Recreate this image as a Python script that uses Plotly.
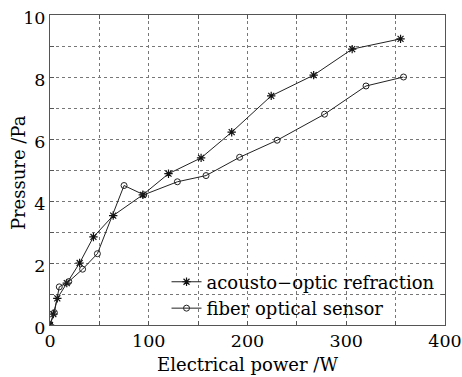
import plotly.graph_objects as go

# Data
ao_power = [0, 3.4, 7.4, 17, 30, 44, 64, 94, 120, 153, 184, 224, 267, 306, 355]
ao_pressure = [0, 0.35, 0.86, 1.35, 2.0, 2.84, 3.53, 4.2, 4.88, 5.39, 6.22, 7.39, 8.06, 8.9, 9.23]

fo_power = [0, 4.4, 9.4, 19, 33, 48, 75, 95, 129, 158, 192, 230, 278, 320, 358]
fo_pressure = [0, 0.4, 1.23, 1.4, 1.8, 2.3, 4.5, 4.2, 4.62, 4.82, 5.41, 5.96, 6.8, 7.71, 8.0]

x_tickvals = [0, 50, 100, 150, 200, 250, 300, 350, 400]
x_ticktext = ["0", "", "100", "", "200", "", "300", "", "400"]
y_tickvals = [0, 1, 2, 3, 4, 5, 6, 7, 8, 9, 10]
y_ticktext = ["0", "", "2", "", "4", "", "6", "", "8", "", "10"]

FONT = "DejaVu Serif"
INK = "#000000"

fig = go.Figure()
fig.add_trace(go.Scatter(
    x=ao_power, y=ao_pressure, mode="lines+markers",
    name="acousto\u2212optic refraction",
    line=dict(color="#222222", width=1),
    marker=dict(symbol="asterisk-open", size=7, color="#111111",
                line=dict(color="#111111", width=1.2)),
))
fig.add_trace(go.Scatter(
    x=fo_power, y=fo_pressure, mode="lines+markers",
    name="fiber optical sensor",
    line=dict(color="#222222", width=1),
    marker=dict(symbol="circle-open", size=6, color="#222222",
                line=dict(color="#222222", width=1)),
))

axis_common = dict(
    showline=True, linecolor="#555555", linewidth=1, mirror="ticks",
    ticks="inside", ticklen=4, tickcolor="#555555",
    showgrid=True, gridcolor="#777777", griddash="dot", gridwidth=1,
    zeroline=False, automargin=False, ticklabeloverflow="allow",
    tickfont=dict(family=FONT, size=17.5, color=INK),
)

fig.update_layout(
    width=462, height=377,
    margin=dict(l=50, r=17, t=15, b=52),
    paper_bgcolor="white", plot_bgcolor="white",
    font=dict(family=FONT, color=INK),
    showlegend=True,
    legend=dict(x=0.295, y=-0.005, xanchor="left", yanchor="bottom",
                bgcolor="rgba(0,0,0,0)", borderwidth=0,
                font=dict(family=FONT, size=18, color=INK),
                tracegroupgap=0),
    xaxis=dict(range=[0, 400], tickmode="array", tickvals=x_tickvals,
               ticktext=x_ticktext,
               title=dict(text="Electrical power /W", standoff=8,
                          font=dict(family=FONT, size=18, color=INK)),
               **axis_common),
    yaxis=dict(range=[0, 10], tickmode="array", tickvals=y_tickvals,
               ticktext=y_ticktext, ticklabelshift=3,
               **axis_common),
    annotations=[dict(
        text="Pressure /Pa", textangle=-90, xref="paper", yref="paper",
        x=-0.081, y=0.49, xanchor="center", yanchor="middle",
        showarrow=False, font=dict(family=FONT, size=18, color=INK),
    )],
)

# Remove the page's default body margin so the figure fills the window exactly.
fig.write_html(
    "out.html",
    config={"displayModeBar": False},
    post_script="document.body.style.margin='0';document.body.style.overflow='hidden';",
)
